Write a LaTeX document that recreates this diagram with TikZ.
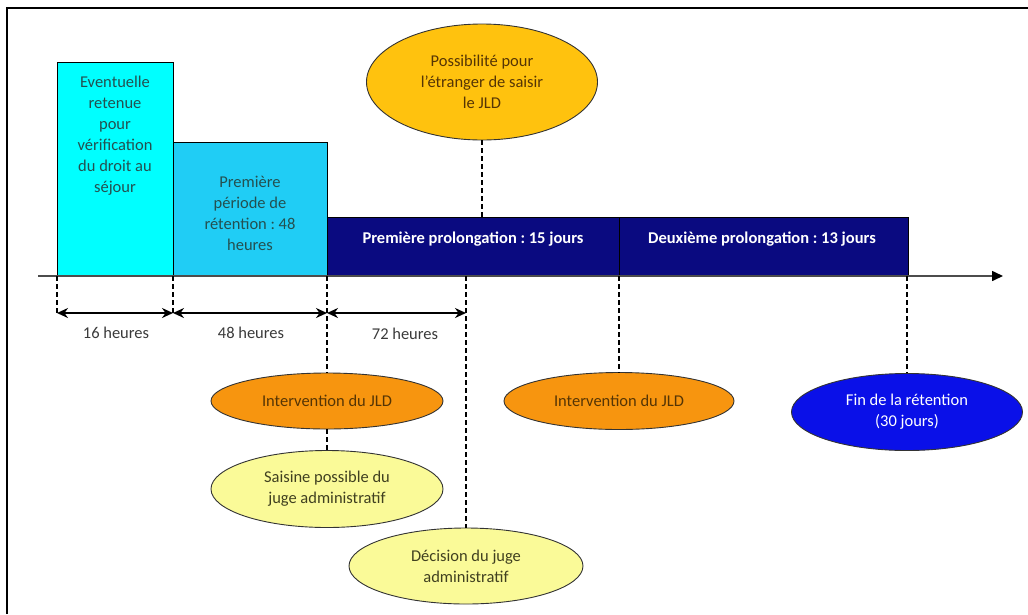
\documentclass[tikz,border=0pt]{standalone}
\usepackage{fontspec}
\setmainfont{Carlito}
\frenchspacing
\usetikzlibrary{shapes.geometric,arrows.meta}
\definecolor{cyanA}{HTML}{00FFFF}
\definecolor{cyanB}{HTML}{20CDF5}
\definecolor{navyB}{HTML}{0A0A80}
\definecolor{goldE}{HTML}{FFC20E}
\definecolor{orngE}{HTML}{F7950F}
\definecolor{paleY}{HTML}{FAFA98}
\definecolor{blueF}{HTML}{0A10E8}
\definecolor{tealT}{HTML}{245050}
\definecolor{brownT}{HTML}{553505}
\definecolor{oliveT}{HTML}{404020}
\definecolor{grayT}{HTML}{3A3A3A}
\tikzset{
  base font/.style={font=\fontsize{16.5}{21}\selectfont},
  period/.style={draw=black, line width=0.8pt, anchor=north west, inner sep=0pt},
  txt/.style={base font, align=center, inner sep=0pt},
  bold txt/.style={font=\fontsize{16.5}{21}\selectfont\bfseries, text=white, inner sep=0pt},
  event/.style={ellipse, draw=black!80, line width=0.9pt, inner sep=0pt, base font, align=center},
  guide/.style={draw=black, line width=1.4pt, dash pattern=on 5pt off 3pt},
  dim/.style={draw=black, line width=1.8pt, {Stealth[length=11pt,width=10pt]}-{Stealth[length=11pt,width=10pt]}},
  axis/.style={draw=black!70, line width=1.6pt, -{Triangle[length=11pt,width=10pt,color=black]}},
}
\begin{document}
\begin{tikzpicture}[x=1pt,y=-1pt]
\useasboundingbox (0,0) rectangle (1028,614);
% frame
\draw[line width=2pt] (7,614) -- (7,8) -- (1028,8);

% periods
\node[period, fill=cyanA, minimum width=116pt, minimum height=214pt] (b1) at (57,62) {};
\node[period, fill=cyanB, minimum width=154pt, minimum height=134pt] (b2) at (173,142) {};
\node[period, fill=navyB, minimum width=292pt, minimum height=59pt] (b3) at (327,217) {};
\node[period, fill=navyB, minimum width=289pt, minimum height=59pt] (b4) at (619,217) {};

\node[txt, text=tealT, anchor=north] (t1) at (115,76) {Eventuelle\\retenue\\pour\\vérification\\du droit au\\séjour};
\node[txt, text=tealT] (t2) at (250,213) {Première\\période de\\rétention : 48\\heures};
\node[bold txt] (t3) at (473,239) {Première prolongation : 15 jours};
\node[bold txt] (t4) at (762,239) {Deuxième prolongation : 13 jours};

% axis
\coordinate (axs) at (38,276);
\coordinate (axe) at (1003,276);
\draw[axis] (axs) -- (axe);

% axis points
\coordinate (a0) at (57,276);
\coordinate (a1) at (173,276);
\coordinate (a2) at (327,276);
\coordinate (a3) at (466,276);
\coordinate (a4) at (619,276);
\coordinate (a5) at (907,276);
\coordinate (d0) at (57,315);
\coordinate (d1) at (173,315);
\coordinate (e0) at (57,313);
\coordinate (e1) at (173,313);
\coordinate (e2) at (327,313);
\coordinate (e3) at (466,313);

% ellipses
\node[event, fill=goldE, text=brownT, minimum width=231pt, minimum height=116pt] (top) at (482,82) {Possibilité pour\\l’étranger de saisir\\le JLD};
\node[event, fill=orngE, text=brownT, minimum width=232pt, minimum height=56pt] (i1) at (327,401) {Intervention du JLD};
\node[event, fill=paleY, text=oliveT, minimum width=232pt, minimum height=77pt] (s1) at (327,489) {Saisine possible du\\juge administratif};
\node[event, fill=paleY, text=oliveT, minimum width=234pt, minimum height=76pt] (dec) at (466,566) {Décision du juge\\administratif};
\node[event, fill=orngE, text=brownT, minimum width=230pt, minimum height=57pt] (i2) at (619,401) {Intervention du JLD};
\node[event, fill=blueF, text=white, minimum width=231pt, minimum height=77pt] (fin) at (907,412) {Fin de la rétention\\(30 jours)};

% guides
\coordinate (b3top) at (482,217);
\draw[guide] (top.south) -- (b3top);
\draw[guide] (a0) -- (d0);
\draw[guide] (a1) -- (d1);
\draw[guide] (a2) -- (i1.north);
\draw[guide] (i1.south) -- (s1.north);
\draw[guide] (a3) -- (dec.north);
\draw[guide] (a4) -- (i2.north);
\draw[guide] (a5) -- (fin.north);

% durations
\draw[dim] (e0) -- (e1);
\draw[dim] (e1) -- (e2);
\draw[dim] (e2) -- (e3);
\node[txt, text=grayT] (l1) at (116,333) {16 heures};
\node[txt, text=grayT] (l2) at (251,333) {48 heures};
\node[txt, text=grayT] (l3) at (405,334) {72 heures};
\end{tikzpicture}
\end{document}
